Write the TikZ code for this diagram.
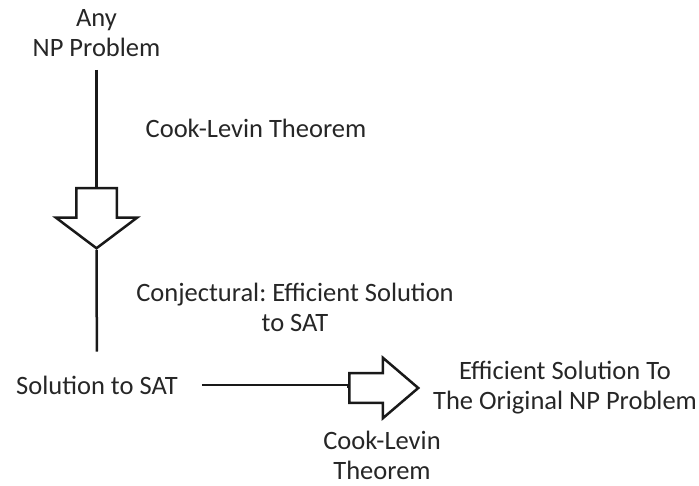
\documentclass[tikz,border=0pt]{standalone}
\usepackage{fontspec}
\setmainfont{Carlito}
\frenchspacing
\usetikzlibrary{positioning, shapes.arrows}

\begin{document}
\begin{tikzpicture}[
        x=1pt, y=1pt,
        txt/.style={font=\fontsize{26.5}{30}\selectfont, align=center, text=black!85, inner sep=1pt},
        line/.style={line width=2.5pt, black!90},
        blockarrow/.style={single arrow, draw=black!90, line width=2.5pt, fill=white, inner xsep=0pt},
    ]
    \useasboundingbox (0,0) rectangle (699,485);
    % TOP: any NP problem down to SAT
    \node[txt] (np) at (96.5, 452) {Any\\NP Problem};
    \node[blockarrow, anchor=tail, rotate=-90, inner ysep=19pt, single arrow head extend=20.5pt,
          minimum height=60pt, single arrow tip angle=106] (down) at (96.5, 298) {};
    \node[txt] (cl1) at (256, 357) {Cook-Levin Theorem};
    \node[txt] (conj) at (295, 178) {Conjectural: Efficient Solution\\to SAT};
    \node[txt] (sat) at (97, 100) {Solution to SAT};
    \draw[line, shorten <=12pt] (np) -- (down.tail);
    \draw[line, shorten >=23pt] (down.tip) -- (sat);
    % BOTTOM: SAT to original problem
    \node[blockarrow, anchor=tail, inner ysep=13.5pt, single arrow head extend=15.5pt,
          minimum height=69pt, single arrow tip angle=81] (right) at (348, 97) {};
    \node[txt] (orig) at (565, 97) {Efficient Solution To\\The Original NP Problem};
    \node[txt] (cl2) at (382, 30) {Cook-Levin\\Theorem};
    \draw[line, shorten <=23pt] (sat) -- (sat -| right.tail) -- (right.tail);
\end{tikzpicture}
\end{document}
